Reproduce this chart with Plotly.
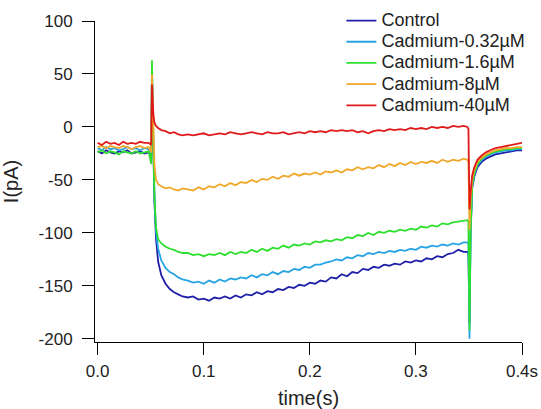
import plotly.graph_objects as go

# time points (s)
T = [0.000, 0.004, 0.008, 0.012, 0.016, 0.020, 0.024, 0.028, 0.032, 0.036, 0.040, 0.044, 0.048,
     0.0505, 0.0512, 0.0518, 0.0525, 0.0535, 0.055, 0.057, 0.060, 0.064, 0.068, 0.072, 0.076, 0.080,
     0.085, 0.090, 0.095, 0.100, 0.105, 0.110, 0.115, 0.120, 0.125, 0.130,
     0.135, 0.140, 0.145, 0.150, 0.155, 0.160, 0.165, 0.170, 0.175, 0.180,
     0.185, 0.190, 0.195, 0.200, 0.205, 0.210, 0.215, 0.220, 0.225, 0.230,
     0.235, 0.240, 0.245, 0.250, 0.255, 0.260, 0.265, 0.270, 0.275, 0.280,
     0.285, 0.290, 0.295, 0.300, 0.305, 0.310, 0.315, 0.320, 0.325, 0.330,
     0.335, 0.340, 0.345,
     0.3485, 0.3495, 0.3505, 0.3515, 0.353, 0.355, 0.358, 0.362, 0.366, 0.370,
     0.375, 0.380, 0.385, 0.390, 0.395, 0.400]

control = [-23, -25, -22, -24, -25, -23, -24, -22, -25, -24, -23, -25, -24,
           -26, 52, 18, -28, -70, -105, -127, -140, -148, -153, -156, -158, -160,
           -161, -160, -163, -162, -164, -161, -162, -160, -162, -159,
           -161, -158, -159, -156, -158, -155, -156, -153, -154, -151,
           -152, -149, -150, -147, -148, -145, -146, -142, -143, -139,
           -141, -137, -138, -134, -135, -132, -133, -130, -131, -129,
           -130, -127, -128, -126, -127, -124, -125, -122, -123, -120,
           -119, -116, -118,
           -118, -120, -185, -100, -58, -47, -38, -33, -30, -28,
           -26, -25, -24, -23, -22, -22]

cd_032 = [-20, -22, -19, -21, -20, -22, -21, -19, -21, -20, -22, -20, -21,
          -26, 56, 22, -25, -65, -98, -115, -126, -133, -137, -139, -142, -144,
          -145, -147, -146, -148, -145, -147, -144, -146, -143, -144,
          -142, -143, -140, -142, -139, -140, -137, -139, -136, -137,
          -134, -135, -132, -133, -130, -130, -128, -127, -125, -126,
          -123, -124, -121, -122, -119, -120, -118, -119, -117, -118,
          -116, -117, -115, -116, -113, -114, -112, -113, -111, -112,
          -110, -111, -109,
          -109, -111, -200, -105, -57, -45, -36, -31, -28, -26,
          -24, -23, -22, -22, -21, -21]

cd_16 = [-24, -22, -25, -23, -24, -26, -23, -24, -25, -23, -25, -24, -23,
         -35, 63, 25, -25, -65, -95, -106, -110, -113, -115, -116, -118, -119,
         -119, -121, -120, -122, -120, -121, -119, -121, -118, -120,
         -118, -119, -116, -118, -115, -117, -114, -115, -112, -114,
         -111, -112, -110, -111, -108, -109, -107, -108, -106, -107,
         -104, -105, -102, -103, -100, -102, -99, -100, -98, -99,
         -97, -98, -96, -97, -94, -95, -93, -94, -91, -92,
         -90, -89, -88,
         -88, -90, -192, -100, -55, -44, -35, -30, -27, -25,
         -23, -22, -21, -21, -20, -20]

cd_8 = [-19, -18, -20, -18, -19, -20, -18, -19, -21, -19, -18, -20, -19,
        -24, 50, 20, -10, -35, -50, -54, -56, -58, -57, -59, -60, -58,
        -59, -60, -57, -59, -56, -57, -54, -56, -53, -55,
        -52, -53, -50, -52, -49, -50, -47, -49, -46, -47,
        -44, -46, -44, -45, -43, -45, -42, -43, -41, -43,
        -40, -41, -38, -40, -38, -39, -36, -38, -35, -37,
        -34, -36, -33, -35, -33, -34, -32, -34, -31, -33,
        -31, -32, -30,
        -31, -33, -97, -70, -50, -41, -33, -29, -26, -24,
        -22, -21, -20, -20, -19, -19]

cd_40 = [-15, -17, -14, -16, -15, -17, -14, -16, -15, -16, -14, -15, -15,
         -17, 40, 24, 12, 4, 1, -1, -3, -4, -6, -5, -7, -8,
         -7, -8, -7, -6, -8, -7, -6, -7, -5, -6,
         -7, -6, -5, -6, -7, -5, -6, -6, -5, -7,
         -6, -5, -6, -4, -5, -4, -5, -3, -4, -3,
         -4, -3, -5, -4, -6, -4, -3, -4, -2, -3,
         -2, -3, -1, -2, -1, -2, 0, -1, 0, -1,
         1, 0, 1,
         0, -2, -78, -62, -46, -38, -31, -27, -24, -22,
         -20, -19, -18, -17, -16, -15]

names = ["Control", "Cadmium-0.32µM", "Cadmium-1.6µM", "Cadmium-8µM", "Cadmium-40µM"]
colors = ["#1f1fa8", "#27a4e4", "#2ee02e", "#f0a82a", "#e01a1a"]
series = [control, cd_032, cd_16, cd_8, cd_40]

x_tickvals = [0.0, 0.1, 0.2, 0.3, 0.4]
x_ticktext = ["0.0", "0.1", "0.2", "0.3", "0.4s"]
y_tickvals = [-200, -150, -100, -50, 0, 50, 100]
y_ticktext = ["-200", "-150", "-100", "-50", "0", "50", "100"]

fig = go.Figure()
for name, col, ys in zip(names, colors, series):
    fig.add_trace(go.Scatter(x=T, y=ys, mode="lines",
                             name='<span style="font-size:18px">' + name + '</span>',
                             line=dict(color=col, width=1.8)))

font = dict(family="Arial, Liberation Sans, sans-serif", size=17, color="#222222")
fig.update_layout(
    width=541, height=409,
    margin=dict(l=95, r=19, t=21, b=67, autoexpand=False),
    paper_bgcolor="white", plot_bgcolor="white",
    font=font,
    showlegend=True,
    legend=dict(x=0.577, y=1.05, xanchor="left", yanchor="top",
                bgcolor="rgba(0,0,0,0)", font=dict(size=14), tracegroupgap=0),
    xaxis=dict(range=[-0.0025, 0.4], tickvals=x_tickvals, ticktext=x_ticktext,
               showline=True, linecolor="black", linewidth=1,
               ticks="outside", ticklen=12, tickcolor="black", tickwidth=1,
               showgrid=False, zeroline=False, automargin=False,
               ticklabelstandoff=2,
               title=dict(text="time(s)", standoff=10)),
    yaxis=dict(range=[-203, 100], tickvals=y_tickvals, ticktext=y_ticktext,
               showline=True, linecolor="black", linewidth=1,
               ticks="outside", ticklen=12, tickcolor="black", tickwidth=1,
               showgrid=False, zeroline=False, automargin=False,
               ticklabelstandoff=6,
               title=dict(text="I(pA)", standoff=16)),
)

fig.write_html("out.html",
               config={"displayModeBar": False},
               post_script="document.body.style.margin='0';document.body.style.padding='0';")
